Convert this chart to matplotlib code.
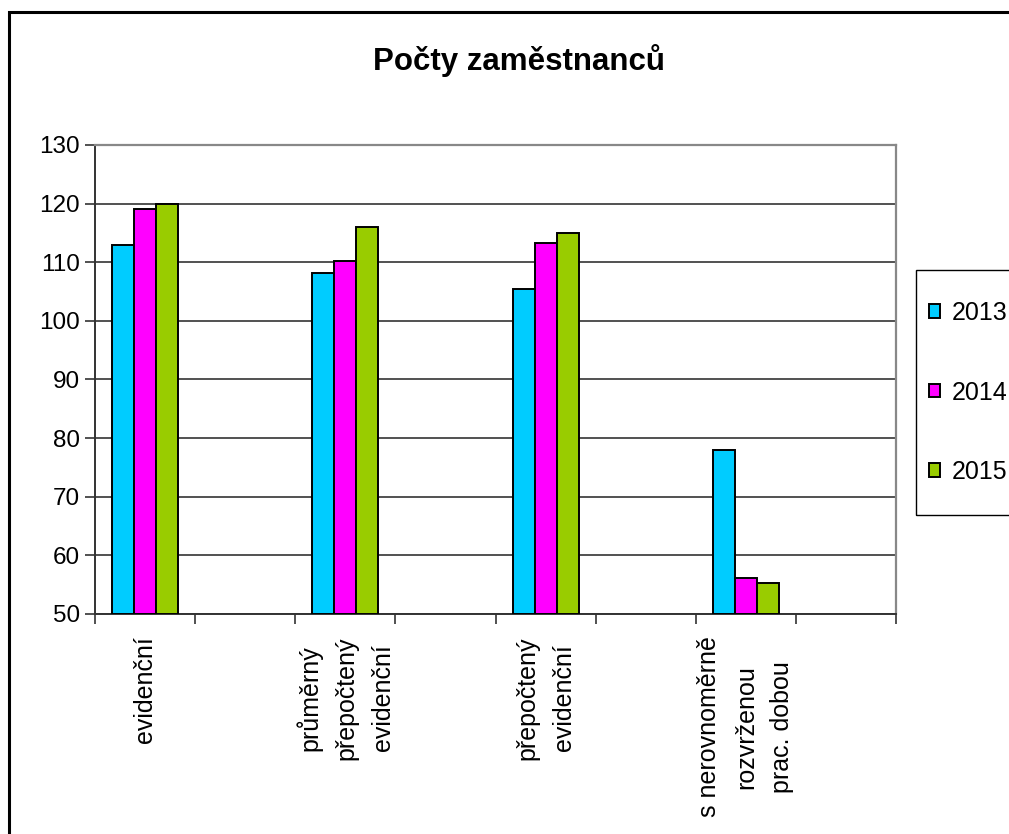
import numpy as np
import matplotlib
matplotlib.use("Agg")
import matplotlib.pyplot as plt
from matplotlib.patches import Rectangle

plt.rcParams['font.family'] = ['Liberation Sans', 'DejaVu Sans']

# Excel-style layout: every other category slot is empty
categories = ['evidenční', '',
              'průměrný\npřepočtený\nevidenční', '',
              'přepočtený\nevidenční', '',
              's nerovnoměrně\nrozvrženou\nprac. dobou', '']
years = ['2013', '2014', '2015']
v2013 = [113, np.nan, 108.2, np.nan, 105.5, np.nan, 78, np.nan]
v2014 = [119, np.nan, 110.2, np.nan, 113.3, np.nan, 56.2, np.nan]
v2015 = [120, np.nan, 116, np.nan, 115, np.nan, 55.3, np.nan]
colors = ['#00CCFF', '#FF00FF', '#99CC00']

W, H = 1009, 834
fig = plt.figure(figsize=(W / 100, H / 100), dpi=100)
ax = fig.add_axes([95 / W, 1 - 614 / H, (896 - 95) / W, (614 - 145) / H])

x = np.arange(len(categories))
bw = 0.22
series = [v2013, v2014, v2015]
for i, (vals, c, lab) in enumerate(zip(series, colors, years)):
    ax.bar(x + (i - 1) * bw, np.array(vals) - 50, bw, bottom=50, color=c,
           edgecolor='black', linewidth=1.4, label=lab, zorder=3)

ax.set_xlim(-0.5, len(categories) - 0.5)
ax.set_ylim(50, 130)
ax.set_yticks(np.arange(50, 131, 10))
ax.yaxis.grid(True, color='#333333', linewidth=1.2, zorder=0)
ax.tick_params(axis='y', labelsize=17.5, length=7, width=1.2, color='#333333', pad=4)

ax.set_xticks(x)
ax.set_xticklabels(categories, rotation=90, fontsize=18, va='top', ha='center',
                   multialignment='center', linespacing=1.65)
ax.tick_params(axis='x', which='major', length=0, pad=16)
ax.set_xticks(np.arange(-0.5, len(categories), 1), minor=True)
ax.tick_params(axis='x', which='minor', length=7, width=1.2, color='#333333')

for s in ['top', 'right']:
    ax.spines[s].set_color('#888888')
    ax.spines[s].set_linewidth(1.6)
for s in ['left', 'bottom']:
    ax.spines[s].set_color('#333333')
    ax.spines[s].set_linewidth(1.4)

fig.text(519 / W, 1 - 61 / H, 'Počty zaměstnanců', fontsize=22.5, fontweight='bold',
         ha='center', va='center')

# outer chart border (cut off on the right and bottom)
fig.patches.append(Rectangle((9 / W, -0.1), 1.2, 1 - 12 / H + 0.1, transform=fig.transFigure,
                             fill=False, edgecolor='black', linewidth=2.2))
# legend box (cut off on the right)
fig.patches.append(Rectangle((916 / W, 1 - 515 / H), 0.2, (515 - 270) / H,
                             transform=fig.transFigure, fill=False,
                             edgecolor='black', linewidth=1.0))
handles, labels = ax.get_legend_handles_labels()
fig.legend(handles, labels, loc='upper left', bbox_to_anchor=(929 / W, 1 - 301 / H),
           frameon=False, fontsize=18, handlelength=0.45, handleheight=0.45,
           handletextpad=0.45, labelspacing=2.22, borderpad=0, borderaxespad=0)

fig.savefig('out.png', dpi=100)
